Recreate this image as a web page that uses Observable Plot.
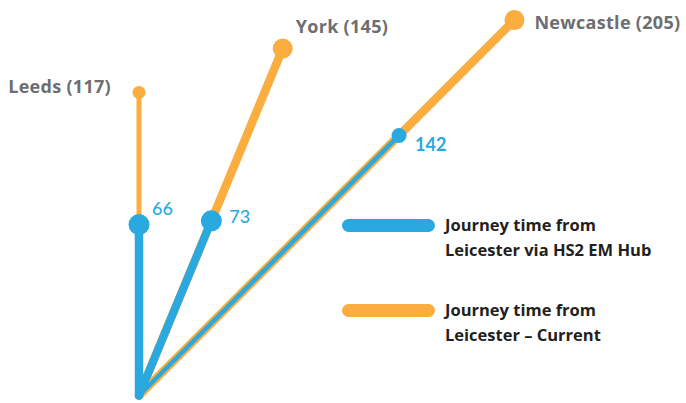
<!DOCTYPE html>
<html>
<head>
<meta charset="utf-8">
<script src="https://cdn.jsdelivr.net/npm/d3@7"></script>
<script src="https://cdn.jsdelivr.net/npm/@observablehq/plot@0.6"></script>
<style>
  html, body { margin: 0; padding: 0; background: #fff; }
  #wrap { position: relative; width: 686px; height: 403px; overflow: hidden; font-family: "Open Sans", Lato, sans-serif; }
  .legend { position: absolute; left: 342px; font-weight: 700; font-size: 16.5px; color: #231f20; }
  .legend .item { position: absolute; left: 0; width: 330px; }
  .legend .bar { position: absolute; left: 0; width: 93px; height: 12.5px; border-radius: 6.5px; }
  .legend .txt { position: absolute; left: 103px; line-height: 25px; white-space: nowrap; }
  .dest-label text { letter-spacing: 0.3px; }
</style>
</head>
<body>
<div id="wrap"></div>
<script>
// ---- data ----
const destinations = ["Leeds", "York", "Newcastle"];
const currentMinutes = [117, 145, 205];   // Journey time from Leicester – Current
const hs2Minutes = [66, 73, 142];         // Journey time from Leicester via HS2 EM Hub
const seriesNames = ["Journey time from Leicester via HS2 EM Hub", "Journey time from Leicester – Current"];

// ---- layout / style (not data) ----
const BLUE = "#29a9e0", ORANGE = "#fbad3f", GREY = "#6d6e71";
const bearing = {Leeds: 0, York: 22.5, Newcastle: 45}; // degrees clockwise from vertical
const orangeWidth = {Leeds: 5, York: 8.5, Newcastle: 8.5};
const blueWidth = {Leeds: 8.5, York: 8, Newcastle: 4.5};
const orangeR = {Leeds: 6.5, York: 10, Newcastle: 10};
const blueR = {Leeds: 10.5, York: 10.5, Newcastle: 7.5};
const destLabelOffset = {Leeds: [-28, -5, "end"], York: [13, -21, "start"], Newcastle: [20, 3, "start"]};
const valLabelOffset = {Leeds: [13, -15, "start"], York: [18, -4, "start"], Newcastle: [16, 10, "start"]};

const rad = d => bearing[d] * Math.PI / 180;
const rows = destinations.map((d, i) => ({
  dest: d, current: currentMinutes[i], hs2: hs2Minutes[i],
  cx: currentMinutes[i] * Math.sin(rad(d)), cy: currentMinutes[i] * Math.cos(rad(d)),
  hx: hs2Minutes[i] * Math.sin(rad(d)), hy: hs2Minutes[i] * Math.cos(rad(d))
}));

const k = 2.59; // px per minute, equal on both axes
const ox = 138.5, oy = 395;

const marks = [
  Plot.link(rows, {x1: 0, y1: 0, x2: "cx", y2: "cy", stroke: ORANGE,
    strokeWidth: d => orangeWidth[d.dest], strokeLinecap: "round"}),
  Plot.link(rows, {x1: 0, y1: 0, x2: "hx", y2: "hy", stroke: BLUE,
    strokeWidth: d => blueWidth[d.dest], strokeLinecap: "round"}),
  Plot.dot(rows, {x: "cx", y: "cy", r: d => orangeR[d.dest], fill: ORANGE, stroke: null}),
  Plot.dot(rows, {x: "hx", y: "hy", r: d => blueR[d.dest], fill: BLUE, stroke: null})
];
for (const r of rows) {
  const [dx, dy, anchor] = destLabelOffset[r.dest];
  marks.push(Plot.text([r], {x: "cx", y: "cy", text: d => `${d.dest} (${d.current})`,
    dx, dy, textAnchor: anchor, fill: GREY, fontWeight: 700, fontSize: 18, fontFamily: "'Open Sans', sans-serif",
    className: "dest-label"}));
  const [vx, vy, va] = valLabelOffset[r.dest];
  marks.push(Plot.text([r], {x: "hx", y: "hy", text: d => String(d.hs2),
    dx: vx, dy: vy, textAnchor: va, fill: BLUE, fontWeight: r.dest === "Newcastle" ? 700 : 500, fontSize: 18, fontFamily: "Lato, sans-serif"}));
}

const chart = Plot.plot({
  width: 686, height: 403,
  margin: 0,
  x: {type: "linear", domain: [0, 100], range: [ox, ox + 100 * k], axis: null},
  y: {type: "linear", domain: [0, 100], range: [oy, oy - 100 * k], axis: null},
  r: {type: "identity"},
  style: {background: "#fff", overflow: "visible"},
  marks
});
const wrap = document.getElementById("wrap");
wrap.appendChild(chart);

// legend
const legend = document.createElement("div");
legend.className = "legend";
legend.style.top = "0px";
const legendItems = [
  {color: BLUE, lines: ["Journey time from", "Leicester via HS2 EM Hub"], top: 219},
  {color: ORANGE, lines: ["Journey time from", "Leicester – Current"], top: 304}
];
legendItems.forEach((it, i) => {
  const item = document.createElement("div");
  item.className = "item";
  item.style.top = it.top + "px";
  item.title = seriesNames[i];
  const bar = document.createElement("div");
  bar.className = "bar"; bar.style.background = it.color;
  const txt = document.createElement("div");
  txt.className = "txt"; txt.style.top = "-7px";
  txt.innerHTML = it.lines.join("<br>");
  item.appendChild(bar); item.appendChild(txt);
  legend.appendChild(item);
});
wrap.appendChild(legend);
</script>
</body>
</html>
